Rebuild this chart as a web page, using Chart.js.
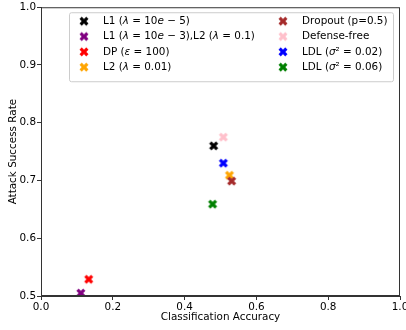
<!DOCTYPE html>
<html>
<head>
<meta charset="utf-8">
<script src="https://cdn.jsdelivr.net/npm/chart.js@4"></script>
<style>
  html, body { margin: 0; padding: 0; background: #fff; }
  #wrap { width: 406px; height: 330px; }
</style>
</head>
<body>
<div id="wrap"><canvas id="myChart" width="406" height="330"></canvas></div>
<script>
// data
var methods = ['L1 ($λ = 10e − 5$)', 'L1 ($λ = 10e − 3$),L2 ($λ = 0.1$)', 'DP ($ε = 100$)', 'L2 ($λ = 0.01$)',
               'Dropout (p=0.5)', 'Defense-free', 'LDL ($σ² = 0.02$)', 'LDL ($σ² = 0.06$)'];
var accuracy = [0.481, 0.111, 0.133, 0.525, 0.531, 0.508, 0.508, 0.478];
var attackRate = [0.760, 0.505, 0.529, 0.709, 0.699, 0.775, 0.730, 0.659];
var colors = ['#000000', '#800080', '#ff0000', '#ffa500', '#a52a2a', '#ffc0cb', '#0000ff', '#008000'];
var xTicks = [0, 0.2, 0.4, 0.6, 0.8, 1.0];
var yTicks = [0.5, 0.6, 0.7, 0.8, 0.9, 1.0];

var FONT = '"DejaVu Sans", sans-serif';
var FS = 10.4;

// filled "X" marker like matplotlib
function makeMarker(color, size) {
  var c = document.createElement('canvas');
  var n = Math.ceil(size) + 2;
  c.width = n; c.height = n;
  var g = c.getContext('2d');
  var pts = [[1,0],[2,0],[2,1],[3,1],[3,2],[2,2],[2,3],[1,3],[1,2],[0,2],[0,1],[1,1]];
  var a = Math.PI / 4;
  g.beginPath();
  pts.forEach(function(p, i) {
    var x = (p[0] / 3 - 0.5) * size, y = (p[1] / 3 - 0.5) * size;
    var rx = x * Math.cos(a) - y * Math.sin(a) + n / 2;
    var ry = x * Math.sin(a) + y * Math.cos(a) + n / 2;
    if (i === 0) g.moveTo(rx, ry); else g.lineTo(rx, ry);
  });
  g.closePath();
  g.fillStyle = color;
  g.fill();
  return c;
}

// draw label, italic letters inside $...$
function drawLabel(g, text, x, y) {
  var inMath = false;
  g.textBaseline = 'middle';
  g.textAlign = 'left';
  for (var i = 0; i < text.length; i++) {
    var ch = text[i];
    if (ch === '$') { inMath = !inMath; continue; }
    var italic = inMath && /[a-zα-ω]/i.test(ch);
    g.font = (italic ? 'italic ' : '') + FS + 'px ' + FONT;
    g.fillText(ch, x, y);
    x += g.measureText(ch).width;
  }
}

var datasets = methods.map(function(m, i) {
  return {
    label: m,
    data: [{ x: accuracy[i], y: attackRate[i] }],
    pointStyle: makeMarker(colors[i], 9.6),
    backgroundColor: colors[i],
    borderColor: colors[i],
    order: -i
  };
});

var framePlugin = {
  id: 'frame',
  afterDatasetsDraw: function(chart) {
    var g = chart.ctx, a = chart.chartArea;
    g.save();
    g.strokeStyle = '#333';
    g.lineWidth = 1;
    g.strokeRect(a.left + 0.5, a.top + 0.5, a.right - a.left - 1, a.bottom - a.top - 1);

    // legend in two columns
    var bx = a.left + 28, by = a.top + 5, bw = 324, bh = 69;
    g.fillStyle = 'rgba(255,255,255,0.8)';
    g.strokeStyle = '#cccccc';
    g.beginPath();
    if (g.roundRect) g.roundRect(bx + 0.5, by + 0.5, bw, bh, 2); else g.rect(bx + 0.5, by + 0.5, bw, bh);
    g.fill();
    g.stroke();
    g.fillStyle = '#000';
    for (var i = 0; i < methods.length; i++) {
      var col = Math.floor(i / 4), row = i % 4;
      var mx = bx + 15 + col * 199;
      var my = by + 9 + row * 15.3;
      var mk = datasets[i].pointStyle;
      g.drawImage(mk, mx - mk.width / 2, my - mk.height / 2);
      g.fillStyle = '#000';
      drawLabel(g, methods[i], mx + 19, my);
    }
    g.restore();
  }
};

var ctx = document.getElementById('myChart').getContext('2d');
var myChart = new Chart(ctx, {
  type: 'scatter',
  data: { datasets: datasets },
  options: {
    responsive: false,
    animation: false,
    layout: { padding: { left: 7, top: 7, right: 5, bottom: 6 } },
    plugins: { legend: { display: false }, tooltip: { enabled: false } },
    elements: { point: { radius: 5 } },
    scales: {
      x: {
        type: 'linear', min: 0, max: 1,
        afterBuildTicks: function(s) { s.ticks = xTicks.map(function(v) { return { value: v }; }); },
        afterFit: function(s) { s.height = 28; s.paddingRight = 0; s.paddingLeft = 0; },
        ticks: { color: '#000', font: { family: FONT, size: FS }, padding: 1, maxRotation: 0,
                 callback: function(v) { return v.toFixed(1); } },
        grid: { drawOnChartArea: false, drawTicks: true, tickLength: 4, color: '#333' },
        border: { color: '#333' },
        title: { display: true, text: 'Classification Accuracy', color: '#000',
                 font: { family: FONT, size: FS }, padding: { top: 0, bottom: 0 } }
      },
      y: {
        type: 'linear', min: 0.5, max: 1,
        afterBuildTicks: function(s) { s.ticks = yTicks.map(function(v) { return { value: v }; }); },
        afterFit: function(s) { s.width = 34; },
        ticks: { color: '#000', font: { family: FONT, size: FS }, padding: 1,
                 callback: function(v) { return v.toFixed(1); } },
        grid: { drawOnChartArea: false, drawTicks: true, tickLength: 4, color: '#333' },
        border: { color: '#333' },
        title: { display: true, text: 'Attack Success Rate', color: '#000',
                 font: { family: FONT, size: FS }, padding: { top: 0, bottom: 2 } }
      }
    }
  },
  plugins: [framePlugin]
});
</script>
</body>
</html>
